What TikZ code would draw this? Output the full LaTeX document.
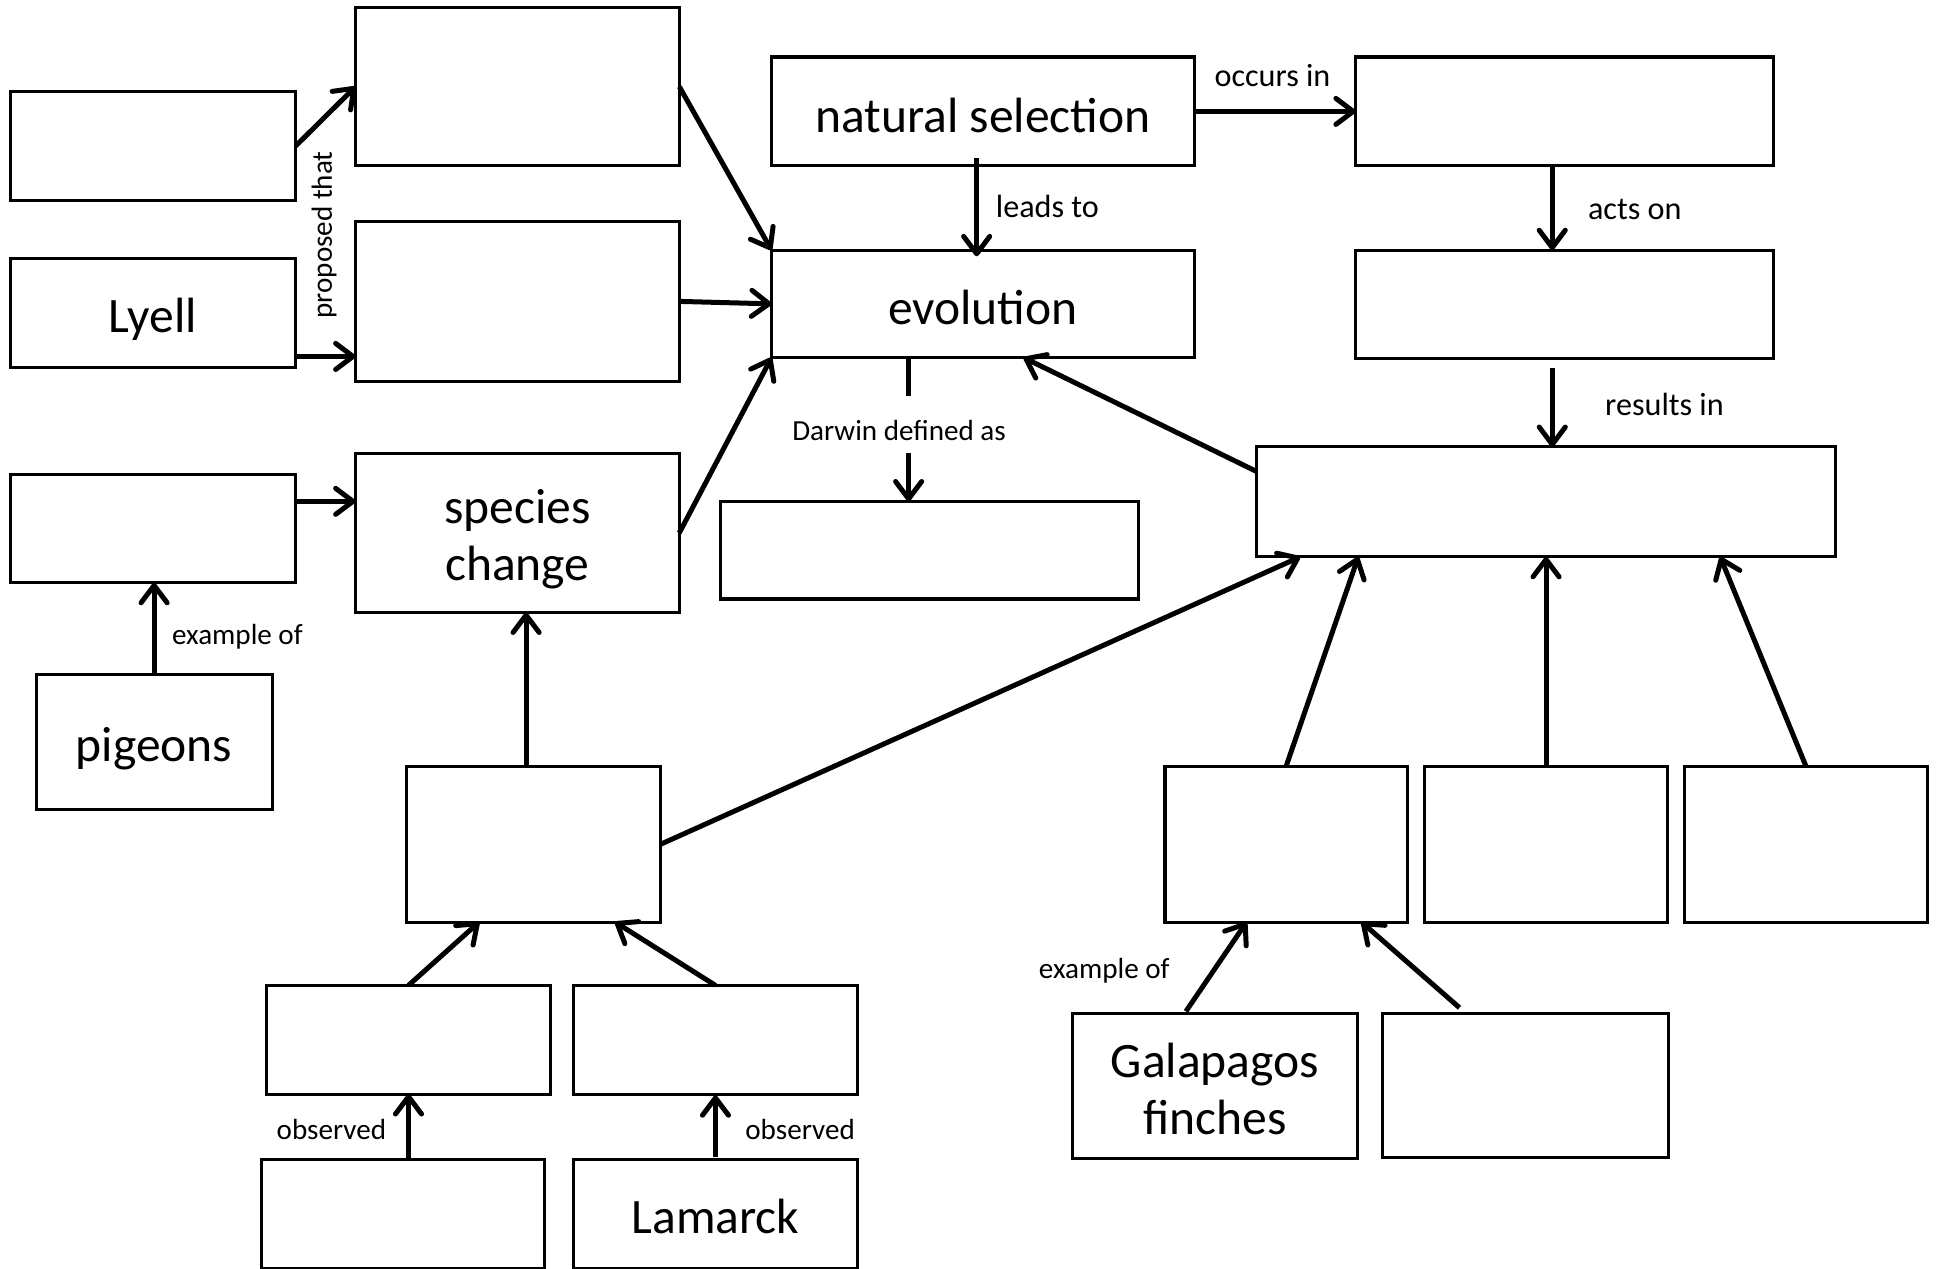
\documentclass[tikz,border=0pt]{standalone}
\usepackage{fontspec}
\setmainfont{Carlito}
\usetikzlibrary{arrows.meta,calc}
\newcommand{\bx}[5]{\node[box, minimum width={(#4-#2)*0.01cm}, minimum height={(#5-#3)*0.01cm}] (#1) at ({(#2+#4)*0.005},{-(#3+#5)*0.005}) {};}
\newcommand{\bxt}[7]{\bx{#1}{#2}{#3}{#4}{#5}\node[boxtext] (#1t) at ([yshift=-#7]#1.center) {#6};}
\tikzset{
  box/.style={draw, line width=0.7pt, inner sep=0pt, outer sep=0pt},
  boxtext/.style={inner sep=0pt, align=center, font=\fontsize{11.4}{13.1}\selectfont},
  conn/.style={line width=1.15pt},
  arr/.style={conn, -{Straight Barb[length=4pt,width=6pt,line width=1.15pt,round]}},
  lbl/.style={inner sep=0pt, font=\fontsize{6.7}{8}\selectfont},
  lblb/.style={inner sep=0pt, font=\fontsize{7.4}{9}\selectfont},
}
\begin{document}
\begin{tikzpicture}
\useasboundingbox (0,0) rectangle (15.68,-10.26);
% boxes
\bx{B1}{8}{74}{239}{162}
\bx{B2}{287}{6}{549}{134}
\bxt{B3}{8}{209}{239}{297}{Lyell}{0.05cm}
\bx{B4}{287}{179}{549}{308}
\bx{B5}{8}{383}{239}{471}
\bxt{B6}{287}{366}{549}{495}{species\\change}{0.05cm}
\bxt{B7}{29}{545}{220}{654}{pigeons}{0.05cm}
\bxt{B8}{623}{46}{965}{134}{natural selection}{0.03cm}
\bxt{B9}{623}{202}{965}{289}{evolution}{0.03cm}
\bx{B10}{1095}{46}{1433}{134}
\bx{B11}{1095}{202}{1433}{290}
\bx{B12}{582}{405}{920}{484}
\bx{B13}{1015}{361}{1483}{450}
\bx{B14}{328}{619}{534}{745}
\bx{B15}{215}{796}{445}{884}
\bx{B16}{463}{796}{693}{884}
\bx{B17}{211}{937}{440}{1025}
\bxt{B18}{463}{937}{693}{1025}{Lamarck}{0.02cm}
\bx{B19}{941}{619}{1137}{745}
\bx{B20}{1151}{619}{1347}{745}
\bx{B21}{1361}{619}{1557}{745}
\bxt{B22}{866}{819}{1097}{936}{Galapagos\\finches}{0.02cm}
\bx{B23}{1117}{819}{1348}{935}
% labels
\node[lbl, rotate=90] (Lprop) at (2.62,-1.90) {proposed that};
\node[lbl] (Lex1) at (1.92,-5.15) {example of};
\node[lbl] (Lobs1) at (2.68,-9.13) {observed};
\node[lbl] (Lobs2) at (6.47,-9.13) {observed};
\node[lblb] (Llead) at (8.47,-1.67) {leads to};
\node[lblb] (Locc) at (10.29,-0.61) {occurs in};
\node[lblb] (Lacts) at (13.22,-1.69) {acts on};
\node[lblb] (Lres) at (13.46,-3.27) {results in};
\node[lbl] (Ldar) at (7.27,-3.48) {Darwin defined as};
\node[lbl] (Lex2) at (8.93,-7.85) {example of};
% connectors
\draw[arr] (B1.east) -- (B2.west);
\draw[arr] ([yshift=-0.35cm]B3.east) -- ([yshift=-0.35cm]B3.east -| B4.west);
\draw[arr] (B2.east) -- (B9.north west);
\draw[arr] (B4.east) -- (B9.west);
\draw[arr] (B6.east) -- (B9.south west);
\draw[arr] ([yshift=0.22cm]B5.east) -- ([yshift=0.22cm]B5.east -| B6.west);
\draw[arr] (B7.north) -- (B7.north |- B5.south);
\draw[arr] ([xshift=-0.06cm]B14.north) -- ([xshift=-0.06cm]B14.north |- B6.south);
\draw[arr] (B14.east) -- ([xshift=0.35cm]B13.south west);
\draw[arr] (B15.north) -- ([xshift=0.59cm]B14.south west);
\draw[arr] (B16.north) -- ([xshift=-0.37cm]B14.south east);
\draw[arr] (B15.south |- B17.north) -- (B15.south);
\draw[arr] ([yshift=0.02cm]B16.south |- B18.north) -- ([yshift=-0.01cm]B16.south);
\draw[arr] ([xshift=-0.05cm,yshift=0.06cm]B8.south) -- ([xshift=-0.05cm,yshift=-0.05cm]B8.south |- B9.north);
\draw[arr] (B8.east) -- (B10.west);
\draw[arr] ([xshift=-0.10cm]B10.south) -- ([xshift=-0.10cm]B10.south |- B11.north);
\draw[arr] ([xshift=-0.10cm,yshift=-0.07cm]B11.south) -- ([xshift=-0.10cm]B11.south |- B13.north);
\coordinate (d1) at ([xshift=-0.60cm]B9.south);
\draw[conn] (d1) -- ++(0,-0.31);
\draw[arr] ($(d1)+(0,-0.77)$) -- (d1 |- B12.north);
\draw[arr] ([yshift=0.245cm]B13.west) -- ([xshift=0.33cm]B9.south);
\draw[arr] (B19.north) -- ([xshift=0.82cm]B13.south west);
\draw[arr] (B20.north) -- (B20.north |- B13.south);
\draw[arr] (B21.north) -- ([xshift=-0.93cm]B13.south east);
\draw[arr] ([xshift=-0.235cm,yshift=0.02cm]B22.north) -- ([xshift=0.66cm]B19.south west);
\draw[arr] ([xshift=-0.535cm,yshift=0.05cm]B23.north) -- ([xshift=-0.37cm]B19.south east);
\end{tikzpicture}
\end{document}
